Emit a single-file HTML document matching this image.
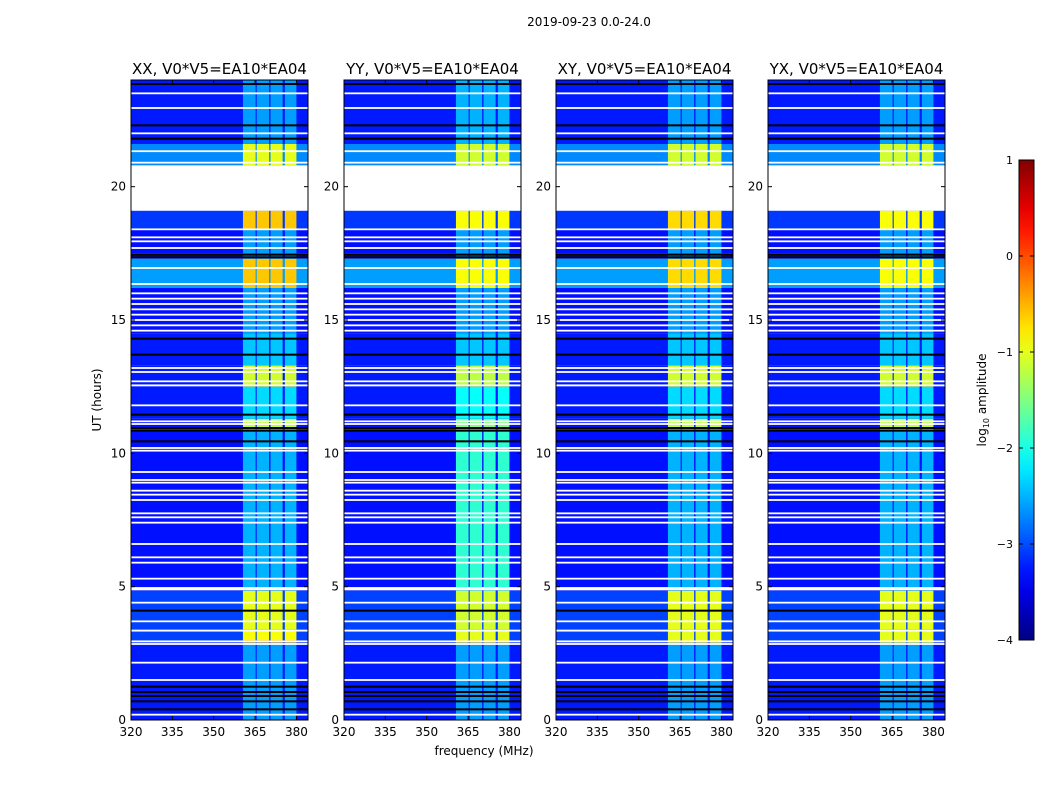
<!DOCTYPE html>
<html><head><meta charset="utf-8">
<style>
body{margin:0;background:#fff;}
svg{display:block;font-family:"DejaVu Sans","Liberation Sans",sans-serif;}
</style></head>
<body>
<svg id="fig" width="1050" height="800" viewBox="0 0 1050 800">
<text x="589" y="26" font-size="12" text-anchor="middle">2019-09-23 0.0-24.0</text>
<g id="panels"></g>
<g id="cbar"></g>
<text x="986" y="400" font-size="12" text-anchor="middle" transform="rotate(-90 986 400)">log<tspan font-size="8" dy="3">10</tspan><tspan dy="-3"> amplitude</tspan></text>
<text x="484" y="755" font-size="12" text-anchor="middle">frequency (MHz)</text>
<text x="101" y="400" font-size="12" text-anchor="middle" transform="rotate(-90 101 400)">UT (hours)</text>
</svg>
<script>
// ---- data ----
const panelTitles = ["XX, V0*V5=EA10*EA04","YY, V0*V5=EA10*EA04","XY, V0*V5=EA10*EA04","YX, V0*V5=EA10*EA04"];
const xTicks = [320,335,350,365,380];
const yTicks = [0,5,10,15,20];
const cbTicks = [1,0,-1,-2,-3,-4];
// time segments: start hour, end hour, background log amp, band log amp per panel [XX,YY,XY,YX]
const segStart = [0, 2.9, 3.0, 3.4, 4.85, 10.9, 11.3, 12.5, 13.3, 14.5, 16.2, 17.3, 17.5, 18.4, 19.1, 20.8, 21.6];
const segEnd   = [2.9, 3.0, 3.4, 4.85, 10.9, 11.3, 12.5, 13.3, 14.5, 16.2, 17.3, 17.5, 18.4, 19.1, 20.8, 21.6, 24];
const segBg    = [-3.25,-3.1,-3.05,-3.05,-3.3,-3.3,-3.25,-3.25,-3.25,-3.3,-2.6,-3.3,-3.3,-3.1, null,-2.7,-3.25];
const segBandXX= [-2.6,-0.5,-0.9,-1.0,-2.5,-1.2,-2.3,-1.1,-2.4,-2.6,-0.6,-2.6,-2.6,-0.6, null,-1.0,-2.6];
const segBandYY= [-2.6,-0.7,-1.0,-1.1,-1.9,-1.5,-2.1,-1.2,-2.4,-2.6,-0.9,-2.6,-2.6,-0.9, null,-1.1,-2.5];
const segBandXY= [-2.6,-0.8,-1.0,-1.0,-2.5,-1.2,-2.3,-1.1,-2.4,-2.6,-0.7,-2.6,-2.6,-0.7, null,-1.1,-2.6];
const segBandYX= [-2.6,-0.9,-1.0,-1.0,-2.5,-1.2,-2.3,-1.1,-2.4,-2.6,-0.9,-2.6,-2.6,-0.9, null,-1.1,-2.6];
const segBands = [segBandXX, segBandYY, segBandXY, segBandYX];
// bright frequency channels (MHz)
const bandLo = [360.6, 365.6, 370.6, 375.8];
const bandHi = [365.2, 370.1, 375.0, 380.0];
// flagged rows (hours)
const whiteLines = [23.5,22.95,22.0,21.33,20.9,18.4,18.1,17.95,17.7,16.95,16.35,16.0,15.8,15.6,15.4,15.2,15.0,14.8,14.6,13.2,13.05,12.7,12.55,11.8,11.2,11.1,10.2,10.1,9.3,9.0,8.9,8.6,8.45,8.25,7.75,7.6,7.4,6.6,6.1,5.9,5.3,4.95,4.9,4.4,3.7,3.35,2.95,2.85,2.15,1.5,0.2];
const blackLines = [23.85,22.3,21.8,17.45,17.35,14.3,13.7,11.45,10.95,10.85,10.45,4.1,1.25,1.05,0.9,0.7,0.4];

// ---- helpers ----
function jet(v){
  let t=(v+4)/5; t=Math.max(0,Math.min(1,t));
  const c=x=>Math.round(255*Math.max(0,Math.min(1,x)));
  const r=c(Math.min(4*t-1.5,-4*t+4.5)), g=c(Math.min(4*t-0.5,-4*t+3.5)), b=c(Math.min(4*t+0.5,-4*t+2.5));
  return `rgb(${r},${g},${b})`;
}
const NS="http://www.w3.org/2000/svg";
function el(tag,attrs,parent){const e=document.createElementNS(NS,tag);for(const k in attrs)e.setAttribute(k,attrs[k]);parent.appendChild(e);return e;}
const panelX=[131,344,556,768], PW=177, PT=80, PB=720;
const yScale=h=>PB-(PB-PT)*h/24;
const panelsG=document.getElementById('panels');

panelX.forEach((x0,p)=>{
  const xScale=f=>x0+(f-320)*PW/(384.2-320);
  const g=el('g',{},panelsG);
  
  
  const bands=segBands[p];
  for(let i=0;i<segStart.length;i++){
    const y1=yScale(segEnd[i]), y2=yScale(segStart[i]);
    if(segBg[i]===null){
      const r=el('rect',{x:x0,y:y1,width:PW,height:y2-y1,fill:'#fff'},g);
      
      
      continue;
    }
    const r=el('rect',{x:x0,y:y1,width:PW,height:y2-y1,fill:jet(segBg[i])},g);
    
    
    for(let b=0;b<bandLo.length;b++){
      const c=el('rect',{x:xScale(bandLo[b]),y:y1,width:xScale(bandHi[b])-xScale(bandLo[b]),height:y2-y1,fill:jet(bands[i])},g);
      
      
    }
  }
  whiteLines.forEach(h=>{
    const l=el('rect',{x:x0,y:yScale(h)-0.9,width:PW,height:1.8,fill:'#fff'},g);
    
    
  });
  blackLines.forEach(h=>{
    const l=el('rect',{x:x0,y:yScale(h)-1,width:PW,height:2,fill:'#000'},g);
    
    
  });
  const fr=el('rect',{x:x0,y:PT,width:PW,height:PB-PT,fill:'none',stroke:'#000','stroke-width':1},g);
  
  
  const t=el('text',{x:x0+PW/2,y:74,'font-size':15,'text-anchor':'middle'},g);
  t.textContent=panelTitles[p];
  
  
  xTicks.forEach(v=>{
    const xx=xScale(v);
    el('line',{x1:xx,x2:xx,y1:PB,y2:PB-4,stroke:'#000'},g);
    el('line',{x1:xx,x2:xx,y1:PT,y2:PT+4,stroke:'#000'},g);
    const tl=el('text',{x:xx,y:PB+16,'font-size':12,'text-anchor':'middle'},g);
    tl.textContent=v;
    
    
  });
  yTicks.forEach(v=>{
    const yy=yScale(v);
    el('line',{x1:x0,x2:x0+4,y1:yy,y2:yy,stroke:'#000'},g);
    el('line',{x1:x0+PW,x2:x0+PW-4,y1:yy,y2:yy,stroke:'#000'},g);
    const tl=el('text',{x:x0-5,y:yy+4,'font-size':12,'text-anchor':'end'},g);
    tl.textContent=v;
    
    
  });
});

// colorbar
const cb=document.getElementById('cbar');
const CBX=1019,CBW=15,CBT=160,CBB=640;
const cbY=v=>CBB-(v+4)/5*(CBB-CBT);
const defs=el('defs',{},cb);
const lg=el('linearGradient',{id:'jetg',x1:0,y1:1,x2:0,y2:0},defs);
for(let i=0;i<=20;i++){el('stop',{offset:i/20,'stop-color':jet(-4+5*i/20)},lg);}
el('rect',{x:CBX,y:CBT,width:CBW,height:CBB-CBT,fill:'url(#jetg)',stroke:'#000'},cb);
cbTicks.forEach(v=>{
  const yy=cbY(v);
  el('line',{x1:CBX,x2:CBX+4,y1:yy,y2:yy,stroke:'#000'},cb);
  el('line',{x1:CBX+CBW,x2:CBX+CBW-4,y1:yy,y2:yy,stroke:'#000'},cb);
  const tl=el('text',{x:CBX-6,y:yy+4,'font-size':11,'text-anchor':'end'},cb);
  tl.textContent=v<0?'\u2212'+(-v):String(v);
  
  
});
</script>
</body></html>
